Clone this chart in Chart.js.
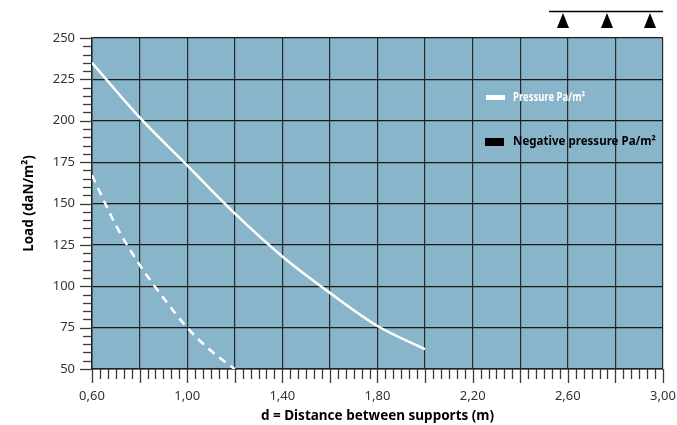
<!DOCTYPE html>
<html>
<head>
<meta charset="utf-8">
<script src="https://cdn.jsdelivr.net/npm/chart.js@4"></script>
<style>
  html, body { margin: 0; padding: 0; background: #fff; }
  #wrap { width: 677px; height: 425px; }
</style>
</head>
<body>
<div id="wrap"><canvas id="chart1"></canvas></div>
<script>
// distance between supports (m) and load (daN/m2)
const pressureX = [0.6, 0.8, 1.0, 1.2, 1.4, 1.6, 1.8, 2.0];
const pressureY = [235, 202, 173, 144, 118, 96, 76, 62];
const negativeX = [0.6, 0.7, 0.8, 0.9, 1.0, 1.1, 1.2];
const negativeY = [167, 137, 113, 93, 75, 61, 50];
const legendLabels = ['Pressure Pa/m\u00b2', 'Negative pressure Pa/m\u00b2'];
const legendColors = ['#ffffff', '#000000'];

const FONT = "'Noto Sans', 'Open Sans', sans-serif";

const toPoints = (xs, ys) => xs.map((x, i) => ({x: x, y: ys[i]}));

// plot background, minor ticks, legend and the support sketch top right
const decor = {
    id: 'decor',
    beforeDraw(chart) {
        const a = chart.chartArea, c = chart.ctx;
        c.save();
        c.fillStyle = '#88b5c9';
        c.fillRect(a.left, a.top, a.right - a.left, a.bottom - a.top);
        c.restore();
    },
    afterDraw(chart) {
        const a = chart.chartArea, c = chart.ctx;
        const xs = chart.scales.x, ys = chart.scales.y;
        c.save();
        c.strokeStyle = '#3a3a3a';
        c.lineWidth = 1.3;
        for (let i = 0; i <= 72; i++) {
            const px = Math.round(xs.getPixelForValue(0.6 + i * 0.2 / 6)) + 0.5;
            const len = i % 6 === 0 ? 14 : 10;
            c.beginPath();
            c.moveTo(px, a.bottom);
            c.lineTo(px, a.bottom + len);
            c.stroke();
        }
        for (let i = 0; i <= 40; i++) {
            const py = Math.round(ys.getPixelForValue(50 + i * 5)) + 0.5;
            const len = i % 5 === 0 ? 12 : 9;
            c.beginPath();
            c.moveTo(a.left - len, py);
            c.lineTo(a.left, py);
            c.stroke();
        }

        // legend
        c.font = 'bold 12px ' + FONT;
        c.textBaseline = 'middle';
        c.fillStyle = legendColors[0];
        c.fillRect(486, 95, 19, 5);
        c.fillText(legendLabels[0], 513, 97.5, 72);
        c.fillStyle = legendColors[1];
        c.fillRect(485, 138, 19, 8);
        c.fillText(legendLabels[1], 513, 141.5, 143);

        // supports
        c.strokeStyle = '#000';
        c.lineWidth = 1.5;
        c.beginPath();
        c.moveTo(549, 11.5);
        c.lineTo(663, 11.5);
        c.stroke();
        c.fillStyle = '#000';
        [563, 607, 650].forEach(cx => {
            c.beginPath();
            c.moveTo(cx, 13);
            c.lineTo(cx + 6, 28);
            c.lineTo(cx - 6, 28);
            c.closePath();
            c.fill();
        });
        c.restore();
    }
};

new Chart(document.getElementById('chart1'), {
    type: 'line',
    data: {
        datasets: [
            {
                label: legendLabels[0],
                data: toPoints(pressureX, pressureY),
                borderColor: '#ffffff',
                borderWidth: 2.5,
                pointRadius: 0,
                cubicInterpolationMode: 'monotone',
                fill: false
            },
            {
                label: legendLabels[1],
                data: toPoints(negativeX, negativeY),
                borderColor: '#ffffff',
                borderWidth: 2.5,
                borderDash: [8, 6],
                pointRadius: 0,
                cubicInterpolationMode: 'monotone',
                fill: false
            }
        ]
    },
    options: {
        responsive: true,
        maintainAspectRatio: false,
        animation: false,
        layout: { padding: { left: 0, right: 14, top: 38, bottom: 0 } },
        plugins: {
            legend: { display: false },
            tooltip: { enabled: false }
        },
        scales: {
            x: {
                type: 'linear',
                min: 0.6,
                max: 3.0,
                afterFit(s) { s.height = 56; s.paddingRight = 0; s.paddingLeft = 0; },
                ticks: {
                    stepSize: 0.2,
                    autoSkip: false,
                    maxRotation: 0,
                    padding: 19,
                    color: '#333',
                    font: { family: FONT, size: 13 },
                    callback: (v, i) => i % 2 === 0 ? v.toFixed(2).replace('.', ',') : ''
                },
                grid: { color: '#2a2a2a', lineWidth: 1.2, drawTicks: false },
                border: { display: true, color: '#222', width: 1.5 },
                title: {
                    display: true,
                    text: 'd = Distance between supports (m)',
                    color: '#000',
                    font: { family: FONT, size: 13.5, weight: 'bold' },
                    padding: { top: 0, bottom: 1 }
                }
            },
            y: {
                min: 50,
                max: 250,
                afterFit(s) { s.width = 92; },
                ticks: {
                    stepSize: 25,
                    padding: 17,
                    color: '#333',
                    font: { family: FONT, size: 13 }
                },
                grid: { color: '#1a1a1a', lineWidth: 1.2, drawTicks: false },
                border: { display: true, color: '#222', width: 1.5 },
                title: {
                    display: true,
                    text: 'Load (daN/m\u00b2)',
                    color: '#000',
                    font: { family: FONT, size: 13.5, weight: 'bold' },
                    padding: { top: 21, bottom: 0 }
                }
            }
        }
    },
    plugins: [decor]
});
</script>
</body>
</html>
